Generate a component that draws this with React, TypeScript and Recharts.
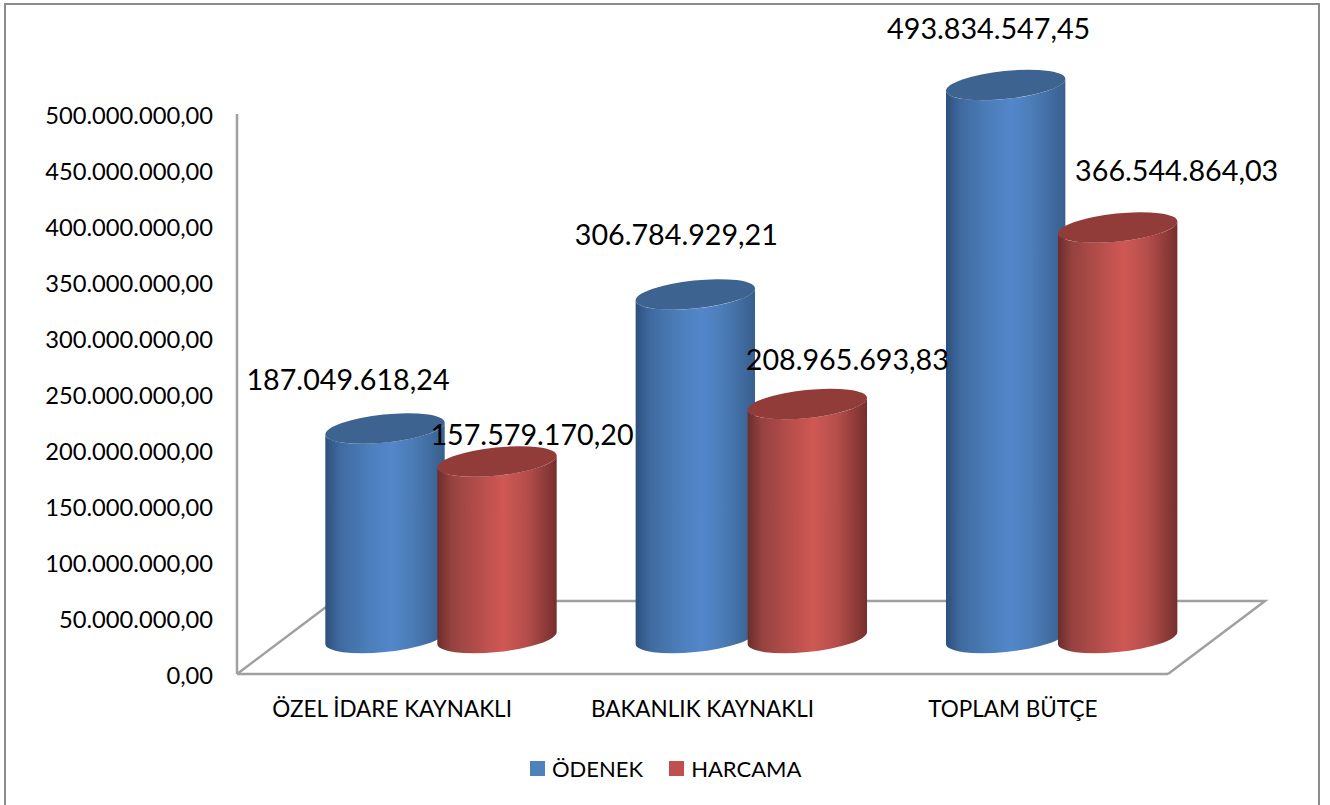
import React from "react"
import { BarChart, Bar, XAxis, YAxis, Legend, LabelList } from "recharts"

const categories = ["ÖZEL İDARE KAYNAKLI", "BAKANLIK KAYNAKLI", "TOPLAM BÜTÇE"]
const odenek = [187049618.24, 306784929.21, 493834547.45]
const harcama = [157579170.2, 208965693.83, 366544864.03]
const yTicks = [0, 50000000, 100000000, 150000000, 200000000, 250000000, 300000000, 350000000, 400000000, 450000000, 500000000]

// hand placed data labels, relative to the top of each cylinder
const odenekLabelNudge = [[-37, -50], [-19, -60], [-17, -57]]
const harcamaLabelNudge = [[35, -28], [40, -45], [59, -57]]

const data = categories.map((name, i) => ({ name, odenek: odenek[i], harcama: harcama[i] }))

const FONT = "Lato, sans-serif"
const AXIS_GREY = "#a0a0a0"

// the 3d floor pushes the bars right and up from the axes
const DEPTH_X = 45.5
const DEPTH_Y = 36
const CYL_WIDTH = 119
const RX = 60
const RY = 14
const TILT = -6

function formatTr(value: number): string {
  return value.toLocaleString("tr-TR", { minimumFractionDigits: 2, maximumFractionDigits: 2 })
}

function Cylinder(props: any) {
  const { x, y, height, gradient, capColor } = props
  const cx = x + DEPTH_X + CYL_WIDTH / 2
  const top = y - DEPTH_Y
  const base = y + height - DEPTH_Y
  const rad = (TILT * Math.PI) / 180
  const hw = Math.sqrt(RX * RX * Math.cos(rad) ** 2 + RY * RY * Math.sin(rad) ** 2)
  const lean = ((RX * RX - RY * RY) * Math.sin(rad) * Math.cos(rad)) / hw
  const lx = cx - hw
  const rx = cx + hw
  const body = [
    `M${lx},${top - lean}`,
    `L${lx},${base - lean}`,
    `A${RX},${RY} ${TILT} 0 0 ${rx},${base + lean}`,
    `L${rx},${top + lean}`,
    `A${RX},${RY} ${TILT} 0 1 ${lx},${top - lean}`,
    "Z",
  ].join(" ")
  return (
    <g>
      <path d={body} fill={`url(#${gradient})`} />
      <ellipse cx={cx} cy={top} rx={RX} ry={RY} fill={capColor} transform={`rotate(${TILT} ${cx} ${top})`} />
    </g>
  )
}

function cylinderLabel(nudges: number[][]) {
  return (props: any) => {
    const { x, y, value, index } = props
    const cx = x + DEPTH_X + CYL_WIDTH / 2 + nudges[index][0]
    const cy = y - DEPTH_Y + nudges[index][1]
    return (
      <text x={cx} y={cy} textAnchor="middle" dominantBaseline="central" fontFamily={FONT} fontSize={28.7} fill="#000">
        {formatTr(value)}
      </text>
    )
  }
}

function LegendRow({ payload }: any) {
  return (
    <div style={{ display: "flex", alignItems: "center", fontFamily: FONT, fontSize: 22, color: "#000" }}>
      {(payload || []).map((item: any, i: number) => (
        <div key={item.value} style={{ display: "flex", alignItems: "center", marginLeft: i === 0 ? 0 : 26 }}>
          <span style={{ width: 15, height: 15, background: item.color, marginRight: 7, display: "inline-block" }} />
          {item.value}
        </div>
      ))}
    </div>
  )
}

export default function App() {
  return (
    <div style={{ position: "absolute", left: 0, top: 0, width: 1330, height: 805, background: "#fff" }}>
      <div
        style={{
          position: "absolute",
          left: 4,
          top: 3,
          width: 1312,
          height: 802,
          border: "2px solid #8c8c8c",
          borderBottom: "none",
        }}
      />
      <div style={{ position: "absolute", left: 0, top: 0 }}>
        <BarChart
          width={1330}
          height={805}
          data={data}
          barSize={112}
          barGap={0}
          margin={{ top: 114, right: 162, bottom: 0, left: 0 }}
        >
          <defs>
            <linearGradient id="blueSide" x1="0" y1="0" x2="1" y2="0">
              <stop offset="0%" stopColor="#2d507c" />
              <stop offset="12%" stopColor="#3f6a9f" />
              <stop offset="35%" stopColor="#4b7db9" />
              <stop offset="55%" stopColor="#5387cb" />
              <stop offset="72%" stopColor="#4c7db8" />
              <stop offset="100%" stopColor="#385f8e" />
            </linearGradient>
            <linearGradient id="redSide" x1="0" y1="0" x2="1" y2="0">
              <stop offset="0%" stopColor="#6c2d2b" />
              <stop offset="12%" stopColor="#964240" />
              <stop offset="35%" stopColor="#b54e4b" />
              <stop offset="55%" stopColor="#cf5854" />
              <stop offset="75%" stopColor="#b54e4b" />
              <stop offset="100%" stopColor="#762f2d" />
            </linearGradient>
          </defs>
          {/* floor of the 3d plot */}
          <polyline points="237,674 334,601 1265,601 1168,674" fill="none" stroke={AXIS_GREY} strokeWidth={2.5} />
          <XAxis
            dataKey="name"
            height={131}
            axisLine={{ stroke: AXIS_GREY, strokeWidth: 2.5 }}
            tickLine={false}
            tickMargin={21}
            interval={0}
            tick={{ fontSize: 22.5, fontFamily: FONT, fill: "#000" }}
          />
          <YAxis
            width={237}
            domain={[0, 500000000]}
            ticks={yTicks}
            axisLine={{ stroke: AXIS_GREY, strokeWidth: 2.5 }}
            tickLine={false}
            tickMargin={18}
            interval={0}
            tickFormatter={formatTr}
            tick={{ fontSize: 23.7, fontFamily: FONT, fill: "#000", dy: 1.5 }}
          />
          <Legend
            layout="horizontal"
            verticalAlign="middle"
            align="center"
            itemSorter={null}
            content={<LegendRow />}
            wrapperStyle={{ position: "absolute", left: 530, top: 755, width: "auto" }}
          />
          <Bar
            dataKey="odenek"
            name="ÖDENEK"
            fill="#4f81bd"
            isAnimationActive={false}
            shape={(p: any) => <Cylinder {...p} gradient="blueSide" capColor="#3d6491" />}
          >
            <LabelList dataKey="odenek" content={cylinderLabel(odenekLabelNudge)} />
          </Bar>
          <Bar
            dataKey="harcama"
            name="HARCAMA"
            fill="#c0504d"
            isAnimationActive={false}
            shape={(p: any) => <Cylinder {...p} gradient="redSide" capColor="#913c39" />}
          >
            <LabelList dataKey="harcama" content={cylinderLabel(harcamaLabelNudge)} />
          </Bar>
        </BarChart>
      </div>
    </div>
  )
}
